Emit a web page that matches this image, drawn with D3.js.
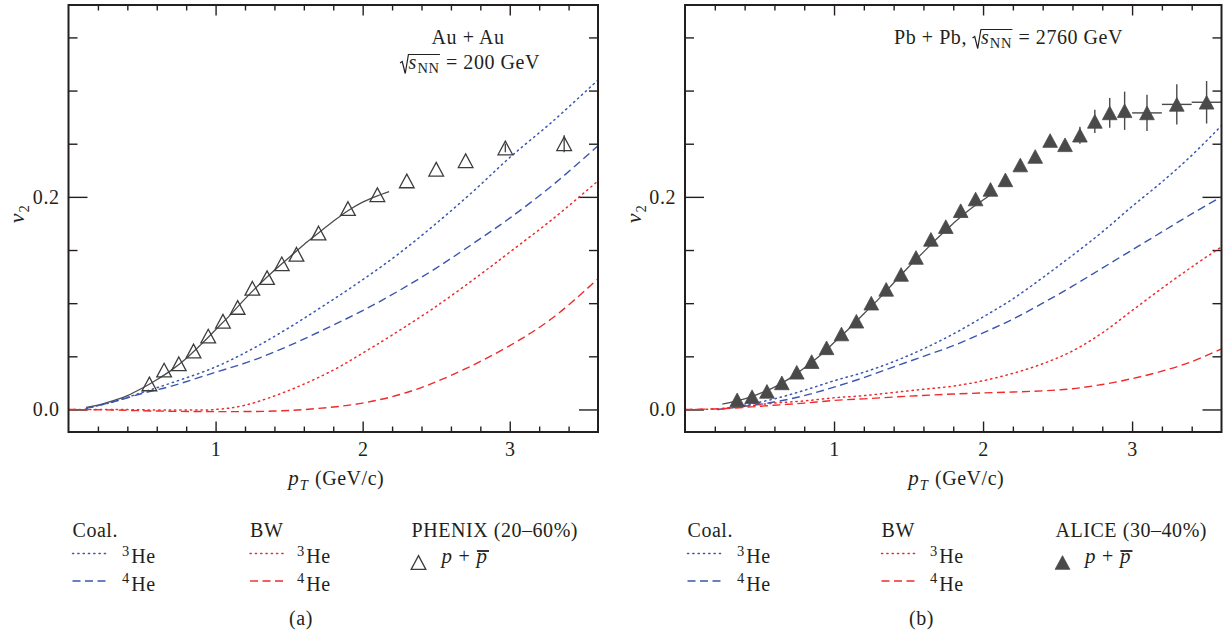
<!DOCTYPE html>
<html>
<head>
<meta charset="utf-8">
<script src="https://cdn.jsdelivr.net/npm/d3@7"></script>
<style>
  html, body { margin: 0; padding: 0; background: #fff; }
  svg { display: block; }
  text { font-family: "Liberation Serif", "Times New Roman", serif; fill: #231f20; white-space: pre; letter-spacing: 0.55px; }
</style>
</head>
<body>
<svg id="chart" width="1226" height="635"></svg>
<script>
// ---------- (a) Au + Au, 200 GeV ----------
const phenixPt  = [0.55, 0.65, 0.75, 0.85, 0.95, 1.05, 1.15, 1.25, 1.35, 1.45, 1.55, 1.7, 1.9, 2.1, 2.3, 2.5, 2.7, 2.97, 3.37];
const phenixV2  = [0.024, 0.037, 0.043, 0.055, 0.069, 0.083, 0.096, 0.114, 0.124, 0.137, 0.146, 0.166, 0.189, 0.202, 0.215, 0.226, 0.234, 0.246, 0.250];
const phenixErr = [0, 0, 0, 0, 0, 0, 0, 0, 0, 0, 0, 0, 0, 0, 0, 0, 0, 0.004, 0.008];

const auFitPt = [0.12, 0.2, 0.3, 0.4, 0.5, 0.6, 0.7, 0.8, 0.9, 1.0, 1.1, 1.2, 1.3, 1.4, 1.5, 1.6, 1.7, 1.8, 1.9, 2.0, 2.1, 2.18];
const auFitV2 = [0.002, 0.004, 0.008, 0.013, 0.020, 0.028, 0.037, 0.048, 0.061, 0.075, 0.089, 0.104, 0.118, 0.131, 0.143, 0.155, 0.166, 0.177, 0.187, 0.195, 0.201, 0.205];

const auCoalHe3Pt = [0.12, 0.3, 0.5, 0.7, 1.0, 1.25, 1.5, 1.75, 2.0, 2.25, 2.5, 2.75, 3.0, 3.3, 3.6];
const auCoalHe3V2 = [0.001, 0.007, 0.016, 0.025, 0.040, 0.057, 0.077, 0.099, 0.122, 0.147, 0.175, 0.205, 0.237, 0.272, 0.310];
const auCoalHe4Pt = [0.12, 0.3, 0.5, 0.7, 1.0, 1.25, 1.5, 1.75, 2.0, 2.25, 2.5, 2.75, 3.0, 3.3, 3.6];
const auCoalHe4V2 = [0.001, 0.007, 0.015, 0.022, 0.035, 0.046, 0.060, 0.076, 0.093, 0.112, 0.133, 0.156, 0.180, 0.212, 0.248];
const auBwHe3Pt = [0, 0.3, 0.6, 0.8, 1.0, 1.2, 1.5, 1.8, 2.0, 2.2, 2.5, 2.8, 3.0, 3.3, 3.6];
const auBwHe3V2 = [0, 0, -0.0005, -0.0005, 0.0, 0.004, 0.018, 0.037, 0.053, 0.070, 0.097, 0.127, 0.148, 0.180, 0.215];
const auBwHe4Pt = [0, 0.3, 0.6, 1.0, 1.4, 1.7, 2.0, 2.3, 2.6, 3.0, 3.3, 3.6];
const auBwHe4V2 = [0, -0.0005, -0.0015, -0.002, -0.0015, 0.001, 0.006, 0.016, 0.032, 0.060, 0.087, 0.123];

// ---------- (b) Pb + Pb, 2760 GeV ----------
const alicePt  = [0.35, 0.45, 0.55, 0.65, 0.75, 0.85, 0.95, 1.05, 1.15, 1.25, 1.35, 1.45, 1.55, 1.65, 1.75, 1.85, 1.95, 2.05, 2.15, 2.25, 2.35, 2.45, 2.55, 2.65, 2.75, 2.85, 2.95, 3.1, 3.3, 3.5];
const aliceV2  = [0.009, 0.012, 0.017, 0.025, 0.035, 0.045, 0.058, 0.071, 0.083, 0.100, 0.113, 0.127, 0.143, 0.160, 0.172, 0.187, 0.198, 0.207, 0.216, 0.230, 0.238, 0.253, 0.249, 0.258, 0.271, 0.279, 0.281, 0.279, 0.287, 0.289];
const aliceErr = [0, 0, 0, 0, 0, 0, 0, 0, 0, 0, 0, 0, 0, 0, 0, 0, 0, 0, 0, 0, 0, 0, 0, 0.008, 0.011, 0.014, 0.018, 0.017, 0.019, 0.020];
const aliceBin = [0, 0, 0, 0, 0, 0, 0, 0, 0, 0, 0, 0, 0, 0, 0, 0, 0, 0, 0, 0, 0, 0, 0, 0, 0, 0, 0, 0.1, 0.1, 0.1];

const pbFitPt = [0.25, 0.4, 0.5, 0.6, 0.7, 0.8, 0.9, 1.0, 1.1, 1.2, 1.3, 1.4, 1.5, 1.6, 1.7, 1.8, 1.9, 2.0, 2.05];
const pbFitV2 = [0.005, 0.010, 0.015, 0.021, 0.029, 0.039, 0.050, 0.063, 0.076, 0.090, 0.104, 0.119, 0.134, 0.148, 0.162, 0.175, 0.187, 0.197, 0.202];

const pbCoalHe3Pt = [0.22, 0.4, 0.6, 0.8, 1.0, 1.2, 1.4, 1.6, 1.8, 2.0, 2.2, 2.4, 2.6, 2.8, 3.0, 3.2, 3.4, 3.6];
const pbCoalHe3V2 = [0, 0.004, 0.010, 0.018, 0.027, 0.035, 0.045, 0.057, 0.071, 0.087, 0.104, 0.124, 0.145, 0.167, 0.191, 0.214, 0.239, 0.267];
const pbCoalHe4Pt = [0.22, 0.4, 0.6, 0.8, 1.0, 1.2, 1.4, 1.6, 1.8, 2.0, 2.2, 2.4, 2.6, 2.8, 3.0, 3.2, 3.4, 3.6];
const pbCoalHe4V2 = [0, 0.003, 0.007, 0.013, 0.021, 0.030, 0.040, 0.050, 0.060, 0.072, 0.085, 0.100, 0.116, 0.133, 0.150, 0.167, 0.184, 0.200];
const pbBwHe3Pt = [0, 0.2, 0.4, 0.6, 0.8, 1.0, 1.2, 1.4, 1.6, 1.8, 2.0, 2.2, 2.4, 2.6, 2.8, 3.0, 3.2, 3.4, 3.6];
const pbBwHe3V2 = [0, 0.0005, 0.003, 0.006, 0.008, 0.011, 0.013, 0.016, 0.019, 0.022, 0.027, 0.034, 0.043, 0.055, 0.072, 0.093, 0.114, 0.134, 0.153];
const pbBwHe4Pt = [0, 0.2, 0.4, 0.6, 0.8, 1.0, 1.2, 1.5, 1.8, 2.1, 2.4, 2.6, 2.8, 3.0, 3.2, 3.4, 3.6];
const pbBwHe4V2 = [0, 0.0005, 0.002, 0.004, 0.006, 0.0085, 0.010, 0.0125, 0.0145, 0.016, 0.0175, 0.0195, 0.0235, 0.029, 0.036, 0.045, 0.057];

// ---------- axis ticks ----------
const xMajor = [1, 2, 3];
const xMinor = [0.2, 0.4, 0.6, 0.8, 1.2, 1.4, 1.6, 1.8, 2.2, 2.4, 2.6, 2.8, 3.2, 3.4];
const yMajor = [0.0, 0.2];
const yMinor = [0.05, 0.1, 0.15, 0.25, 0.3, 0.35];

// ---------- styles ----------
const INK = "#231f20";
const BLUE = "#3a56b0";
const RED = "#ee2b2b";
const MARK = "#4a4a4a";
const DOT = "1.3,4";
const DASH = "8,4.5";
const FS = 20;      // main text size
const FS_SMALL = 14.5;

const svg = d3.select("#chart");
const yDomain = [-0.0212, 0.3805];

// triangle symbol centred on its bounding box
const triangleMid = {
  draw(ctx, size) {
    const w = Math.sqrt(size * 2 / 0.93);
    const h = w * 0.93;
    ctx.moveTo(0, -h / 2);
    ctx.lineTo(w / 2, h / 2);
    ctx.lineTo(-w / 2, h / 2);
    ctx.closePath();
  }
};
const triPath = d3.symbol(triangleMid, 100);

// sequential text pieces (italic, sub/superscripts) measured as they are placed
function richText(parent, x, y, parts, anchor) {
  const g = parent.append("g");
  let cx = 0;
  const placed = [];
  parts.forEach(p => {
    const x0 = cx + (p.dx || 0);
    const t = g.append("text")
      .attr("xml:space", "preserve")
      .attr("x", x0).attr("y", p.dy || 0)
      .style("font-size", (p.size || FS) + "px")
      .style("font-style", p.italic ? "italic" : "normal")
      .text(p.t);
    const w = t.node().getComputedTextLength();
    placed.push({ x0, x1: x0 + w });
    cx = x0 + w;
  });
  const shift = anchor === "end" ? -cx : anchor === "middle" ? -cx / 2 : 0;
  g.attr("transform", `translate(${x + shift},${y})`);
  return { g, placed, total: cx };
}

function sqrtS(parent, x, y, prefix, suffix, anchor) {
  // "√s_NN" with a drawn radical and vinculum
  const parts = [];
  if (prefix) parts.push({ t: prefix });
  parts.push({ t: "", dx: 8.5 });
  parts.push({ t: "s", italic: true });
  parts.push({ t: "NN", size: FS_SMALL, dy: 4.5, dx: 0.5 });
  parts.push({ t: suffix, dx: 1 });
  const r = richText(parent, x, y, parts, anchor);
  const rx = r.placed[prefix ? 1 : 0].x0 - 8.5;
  const end = r.placed[prefix ? 3 : 2].x1 + 0.5;
  r.g.append("path")
    .attr("d", `M${rx},-5.5 L${rx + 2.2},-7 L${rx + 5.2},5 L${rx + 8.4},-14 H${end}`)
    .attr("fill", "none").attr("stroke", INK).attr("stroke-width", 1.2);
  return r;
}

function drawPanel(cfg) {
  const x = d3.scaleLinear().domain([0, 3.6]).range([cfg.x0, cfg.x1]);
  const y = d3.scaleLinear().domain(yDomain).range([432, 5]);
  const g = svg.append("g");

  const clipId = "clip-" + cfg.key;
  svg.append("clipPath").attr("id", clipId)
    .append("rect").attr("x", cfg.x0).attr("y", 5)
    .attr("width", cfg.x1 - cfg.x0).attr("height", 427);

  const styleAxis = sel => {
    sel.select(".domain").remove();
    sel.attr("font-family", null).attr("font-size", null);
    sel.selectAll("line").attr("stroke", INK).attr("stroke-width", 1.4);
    sel.selectAll("text").style("font-size", FS + "px").attr("fill", INK);
  };

  g.append("g").attr("transform", "translate(0,432)")
    .call(d3.axisBottom(x).tickValues(xMinor).tickSize(-5.5).tickFormat(""))
    .call(styleAxis);
  g.append("g").attr("transform", "translate(0,432)")
    .call(d3.axisBottom(x).tickValues(xMajor).tickSize(-10.5).tickPadding(10).tickFormat(d3.format("d")))
    .call(styleAxis);
  g.append("g").attr("transform", "translate(0,5)")
    .call(d3.axisTop(x).tickValues(xMinor).tickSize(-5.5).tickFormat(""))
    .call(styleAxis);
  g.append("g").attr("transform", "translate(0,5)")
    .call(d3.axisTop(x).tickValues(xMajor).tickSize(-10.5).tickFormat(""))
    .call(styleAxis);
  g.append("g").attr("transform", `translate(${cfg.x0},0)`)
    .call(d3.axisLeft(y).tickValues(yMinor).tickSize(-9).tickFormat(""))
    .call(styleAxis);
  g.append("g").attr("transform", `translate(${cfg.x0},0)`)
    .call(d3.axisLeft(y).tickValues(yMajor).tickSize(-19).tickPadding(9).tickFormat(d3.format(".1f")))
    .call(styleAxis);
  g.append("g").attr("transform", `translate(${cfg.x1},0)`)
    .call(d3.axisRight(y).tickValues(yMinor).tickSize(-9).tickFormat(""))
    .call(styleAxis);
  g.append("g").attr("transform", `translate(${cfg.x1},0)`)
    .call(d3.axisRight(y).tickValues(yMajor).tickSize(-19).tickFormat(""))
    .call(styleAxis);

  // model curves
  const line = d3.line().x(d => x(d[0])).y(d => y(d[1])).curve(d3.curveCatmullRom.alpha(0.5));
  const curves = g.append("g").attr("clip-path", `url(#${clipId})`);
  cfg.curves.forEach(c => {
    curves.append("path")
      .datum(d3.zip(c.pt, c.v2))
      .attr("d", line)
      .attr("fill", "none")
      .attr("stroke", c.color)
      .attr("stroke-width", c.width || 1.4)
      .attr("stroke-dasharray", c.dash || null)
      .attr("stroke-linecap", c.dash === DOT ? "round" : "butt");
  });

  // data with error bars
  const pts = d3.range(cfg.pt.length).map(i => ({ x: cfg.pt[i], y: cfg.v2[i], e: cfg.err[i], b: cfg.bin ? cfg.bin[i] : 0 }));
  const bars = g.append("g").attr("stroke", MARK).attr("stroke-width", 1.4);
  bars.selectAll("line.ey").data(pts.filter(d => d.e > 0)).join("line")
    .attr("class", "ey")
    .attr("x1", d => x(d.x)).attr("x2", d => x(d.x))
    .attr("y1", d => y(d.y - d.e)).attr("y2", d => y(d.y + d.e));
  bars.selectAll("line.ex").data(pts.filter(d => d.b > 0)).join("line")
    .attr("class", "ex")
    .attr("x1", d => x(d.x - d.b)).attr("x2", d => x(d.x + d.b))
    .attr("y1", d => y(d.y)).attr("y2", d => y(d.y));
  g.append("g").selectAll("path").data(pts).join("path")
    .attr("transform", d => `translate(${x(d.x)},${y(d.y)})`)
    .attr("d", triPath)
    .attr("fill", cfg.filled ? MARK : "#fff")
    .attr("fill-opacity", cfg.filled ? 1 : 0)
    .attr("stroke", cfg.filled ? MARK : "#3c3c3c")
    .attr("stroke-width", cfg.filled ? 0.8 : 1.3)
    .attr("stroke-linejoin", "miter");

  // frame
  g.append("rect")
    .attr("x", cfg.x0).attr("y", 5)
    .attr("width", cfg.x1 - cfg.x0).attr("height", 427)
    .attr("fill", "none").attr("stroke", INK).attr("stroke-width", 2);

  // axis titles
  const cxm = (cfg.x0 + cfg.x1) / 2;
  richText(g, cxm + 3, 485, [
    { t: "p", italic: true, size: 21 },
    { t: "T", italic: true, size: FS_SMALL, dy: 4.5, dx: 0.5 },
    { t: " (GeV/c)", size: FS, dx: 1 }
  ], "middle");
  const vg = g.append("g").attr("transform", `translate(${cfg.ylabX},214) rotate(-90)`);
  richText(vg, 0, 0, [
    { t: "v", italic: true, size: 22 },
    { t: "2", size: FS_SMALL, dy: 4.5, dx: 0.5 }
  ], "middle");

  return { x, y, g };
}

// legend rows (line samples and text)
function legend(cfg) {
  const g = svg.append("g");
  const L = cfg.lx;
  richText(g, L, 537, [{ t: "Coal." }]);
  richText(g, cfg.bx, 537, [{ t: "BW" }]);
  const rows = [
    { y: 553.5, base: 563, dash: DOT, num: "3" },
    { y: 581, base: 590.5, dash: DASH, num: "4" }
  ];
  rows.forEach(r => {
    [[L, BLUE, cfg.lHe], [cfg.bx, RED, cfg.bHe]].forEach(([sx, col, hx]) => {
      g.append("line")
        .attr("x1", sx).attr("x2", sx + 36).attr("y1", r.y).attr("y2", r.y)
        .attr("stroke", col).attr("stroke-width", 1.4)
        .attr("stroke-dasharray", r.dash)
        .attr("stroke-linecap", r.dash === DOT ? "round" : "butt");
      richText(g, hx, r.base, [
        { t: r.num, size: FS_SMALL, dy: -7.5 },
        { t: "He", dx: 1.5 }
      ]);
    });
  });
  richText(g, cfg.ex, 537, [{ t: cfg.expt }]);
  g.append("path")
    .attr("transform", `translate(${cfg.ex + 7},562.5)`)
    .attr("d", triPath)
    .attr("fill", cfg.filled ? MARK : "none")
    .attr("stroke", cfg.filled ? MARK : "#3c3c3c")
    .attr("stroke-width", cfg.filled ? 0.8 : 1.3);
  const pp = richText(g, cfg.px, 563, [
    { t: "p", italic: true, size: 21 },
    { t: "+", dx: 6 },
    { t: "p", italic: true, size: 21, dx: 6 }
  ]);
  const ob = pp.placed[2];
  pp.g.append("line")
    .attr("x1", ob.x0 + 0.5).attr("x2", ob.x1 + 1.5)
    .attr("y1", -12).attr("y2", -12)
    .attr("stroke", INK).attr("stroke-width", 1.8);
  richText(g, cfg.capX, 625, [{ t: cfg.cap }], "middle");
}

// ---------- panel (a) ----------
const A = drawPanel({
  key: "a", x0: 68.5, x1: 598, ylabX: 24,
  pt: phenixPt, v2: phenixV2, err: phenixErr, filled: false,
  curves: [
    { pt: auFitPt, v2: auFitV2, color: "#4d4d4d", width: 1.3 },
    { pt: auCoalHe3Pt, v2: auCoalHe3V2, color: BLUE, dash: DOT, width: 1.5 },
    { pt: auCoalHe4Pt, v2: auCoalHe4V2, color: BLUE, dash: DASH },
    { pt: auBwHe3Pt, v2: auBwHe3V2, color: RED, dash: DOT, width: 1.5 },
    { pt: auBwHe4Pt, v2: auBwHe4V2, color: RED, dash: DASH }
  ]
});
richText(A.g, 468, 44, [{ t: "Au + Au" }], "middle");
sqrtS(A.g, 470, 68.5, null, " = 200 GeV", "middle");

// ---------- panel (b) ----------
const B = drawPanel({
  key: "b", x0: 685, x1: 1221.5, ylabX: 641,
  pt: alicePt, v2: aliceV2, err: aliceErr, bin: aliceBin, filled: true,
  curves: [
    { pt: pbFitPt, v2: pbFitV2, color: "#4d4d4d", width: 1.3 },
    { pt: pbCoalHe3Pt, v2: pbCoalHe3V2, color: BLUE, dash: DOT, width: 1.5 },
    { pt: pbCoalHe4Pt, v2: pbCoalHe4V2, color: BLUE, dash: DASH },
    { pt: pbBwHe3Pt, v2: pbBwHe3V2, color: RED, dash: DOT, width: 1.5 },
    { pt: pbBwHe4Pt, v2: pbBwHe4V2, color: RED, dash: DASH }
  ]
});
sqrtS(B.g, 1123, 43.5, "Pb + Pb, ", " = 2760 GeV", "end");

// ---------- legends ----------
legend({ lx: 72.5, bx: 250, lHe: 122, bHe: 297, ex: 411.5, px: 441.5, expt: "PHENIX (20\u201360%)", filled: false, cap: "(a)", capX: 301 });
legend({ lx: 687.5, bx: 881.5, lHe: 737, bHe: 930, ex: 1055.5, px: 1085, expt: "ALICE (30\u201340%)", filled: true, cap: "(b)", capX: 921.5 });
</script>
</body>
</html>
